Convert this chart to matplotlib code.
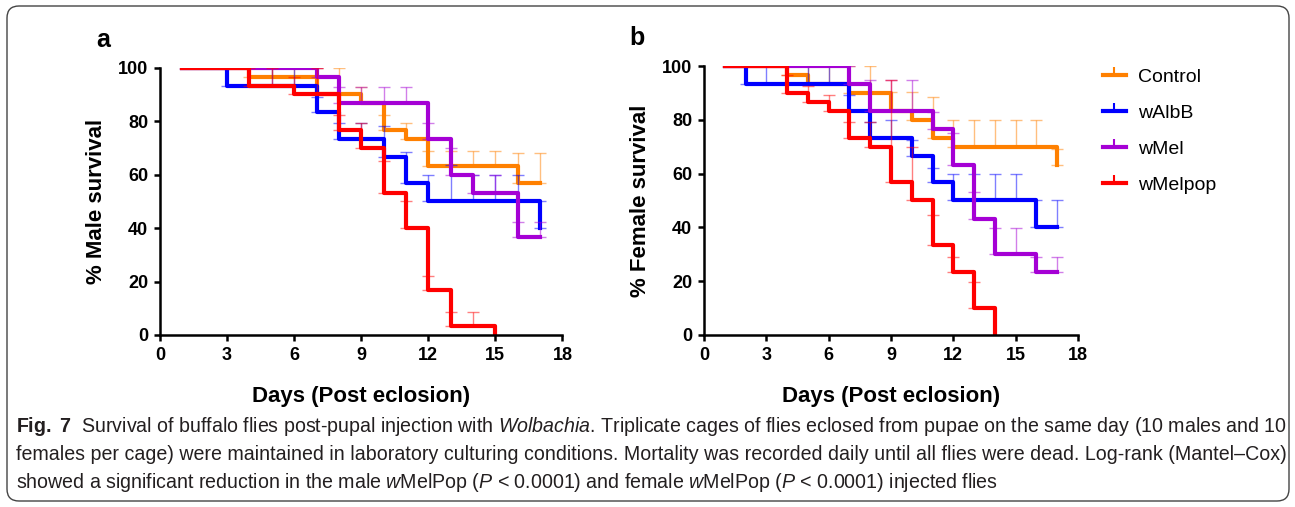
import numpy as np
import matplotlib
matplotlib.use('Agg')
import matplotlib.pyplot as plt
from matplotlib.lines import Line2D
from matplotlib.patches import FancyBboxPatch

plt.rcParams['font.family'] = ['Liberation Sans', 'DejaVu Sans']
plt.rcParams['mathtext.fontset'] = 'custom'
plt.rcParams['mathtext.rm'] = 'Liberation Sans'
plt.rcParams['mathtext.it'] = 'Liberation Sans:italic'
plt.rcParams['mathtext.bf'] = 'Liberation Sans:bold'

groups = ['Control', 'wAlbB', 'wMel', 'wMelpop']
colors = ['#FF8000', '#0000FF', '#A500D5', '#FF0000']
days = np.arange(1, 18)

# % survival per day (day 1..)
male_control = [100, 100, 100, 96.7, 96.7, 96.7, 90, 90, 86.7, 76.7, 73.3, 63.3, 63.3, 63.3, 63.3, 56.7, 56.7]
male_walbb = [100, 100, 93.3, 93.3, 93.3, 93.3, 83.3, 73.3, 73.3, 66.7, 56.7, 50, 50, 50, 50, 50, 40]
male_wmel = [100, 100, 100, 100, 100, 100, 96.7, 86.7, 86.7, 86.7, 86.7, 73.3, 60, 53.3, 53.3, 36.7, 36.7]
male_wmelpop = [100, 100, 100, 93.3, 93.3, 90, 90, 76.7, 70, 53.3, 40, 16.7, 3.3, 3.3, 0]

female_control = [100, 100, 100, 96.7, 93.3, 93.3, 90, 90, 83.3, 80, 73.3, 70, 70, 70, 70, 70, 63.3]
female_walbb = [100, 93.3, 93.3, 93.3, 93.3, 93.3, 83.3, 73.3, 73.3, 66.7, 56.7, 50, 50, 50, 50, 40, 40]
female_wmel = [100, 100, 100, 100, 100, 100, 93.3, 83.3, 83.3, 83.3, 76.7, 63.3, 43.3, 30, 30, 23.3, 23.3]
female_wmelpop = [100, 100, 100, 90, 86.7, 83.3, 73.3, 70, 56.7, 50, 33.3, 23.3, 10, 0]

# top of the (upward) error bar on each day
male_control_top = [100, 100, 100, 100, 100, 100, 100, 100, 92.6, 82.4, 79.3, 69, 69, 69, 69, 68, 68]
male_walbb_top = [100, 100, 100, 100, 100, 100, 89.2, 79.3, 79.3, 78.3, 68.3, 60, 63.7, 60, 60, 60, 50]
male_wmel_top = [100, 100, 100, 100, 100, 100, 100, 92.6, 92.6, 92.6, 92.6, 79.3, 70, 60, 60, 42.4, 42.4]
male_wmelpop_top = [100, 100, 100, 100, 100, 96.7, 100, 82.4, 79.3, 65, 50, 22.2, 8.7, 8.7, 0]

female_control_top = [100, 100, 100, 100, 100, 100, 100, 100, 90.2, 90.2, 88.6, 80, 80, 80, 80, 80, 69]
female_walbb_top = [100, 100, 100, 100, 100, 100, 89.2, 79.3, 80, 72.5, 62.2, 60, 60, 60, 60, 50, 50]
female_wmel_top = [100, 100, 100, 100, 100, 100, 100, 94.8, 94.8, 94.8, 83, 75, 53, 39.7, 39.7, 29, 29]
female_wmelpop_top = [100, 100, 100, 96.7, 92.6, 89.2, 79.3, 79.3, 94.8, 70, 44.6, 28.9, 19.6, 0]

fig = plt.figure(figsize=(12.95, 5.07), dpi=100)
ax_a = fig.add_axes([0.1236, 0.3393, 0.3107, 0.5272])
ax_b = fig.add_axes([0.5436, 0.3393, 0.2888, 0.5305])


def draw_panel(ax, surv, tops, ylabel):
    for name, col, s, t in zip(groups, colors, surv, tops):
        s = np.array(s)
        t = np.array(t)
        d = days[:len(s)]
        m = t > s
        ax.errorbar(d[m], s[m], yerr=[np.zeros(m.sum()), (t - s)[m]], fmt='none',
                    ecolor=col, alpha=0.5, elinewidth=1, capsize=4, capthick=1)
        ax.step(d, s, where='post', color=col, lw=3, label=name)
    ax.set_xlim(0, 18)
    ax.set_ylim(0, 100)
    ax.set_xticks(range(0, 19, 3))
    ax.set_yticks(range(0, 101, 20))
    for side in ['top', 'right']:
        ax.spines[side].set_visible(False)
    for side in ['left', 'bottom']:
        ax.spines[side].set_linewidth(1.8)
    ax.tick_params(direction='out', length=4.5, width=1.8, labelsize=13, pad=4)
    for lab in ax.get_xticklabels() + ax.get_yticklabels():
        lab.set_fontweight('bold')
    ax.set_xlabel('Days (Post eclosion)', fontsize=16, fontweight='bold', labelpad=16)
    ax.set_ylabel(ylabel, fontsize=16, fontweight='bold', labelpad=8)


draw_panel(ax_a, [male_control, male_walbb, male_wmel, male_wmelpop],
           [male_control_top, male_walbb_top, male_wmel_top, male_wmelpop_top], '% Male survival')
draw_panel(ax_b, [female_control, female_walbb, female_wmel, female_wmelpop],
           [female_control_top, female_walbb_top, female_wmel_top, female_wmelpop_top], '% Female survival')

fig.text(0.0795, 0.921, 'a', fontsize=18, fontweight='bold', ha='center', va='center')
fig.text(0.492, 0.925, 'b', fontsize=18, fontweight='bold', ha='center', va='center')

handles = [Line2D([], [], color=c, lw=3, marker=2, markersize=6, markeredgewidth=1.5) for c in colors]
fig.legend(handles, groups, loc='upper left', bbox_to_anchor=(0.838, 0.9), frameon=False,
           fontsize=14, handlelength=1.2, handletextpad=0.6, labelspacing=0.95)

# caption
cap_col = '#231f20'
cap_size = 14.1
fig.text(16 / 1295, 1 - 432 / 507,
         r'$\mathbf{Fig.\ 7}$  Survival of buffalo flies post-pupal injection with $\mathit{Wolbachia}$. '
         'Triplicate cages of flies eclosed from pupae on the same day (10 males and 10',
         fontsize=cap_size, color=cap_col)
fig.text(16 / 1295, 1 - 460 / 507,
         'females per cage) were maintained in laboratory culturing conditions. Mortality was recorded '
         'daily until all flies were dead. Log-rank (Mantel\u2013Cox)',
         fontsize=cap_size, color=cap_col)
fig.text(16 / 1295, 1 - 488 / 507,
         r'showed a significant reduction in the male $\mathit{w}$MelPop ($\mathit{P}$ < 0.0001) '
         r'and female $\mathit{w}$MelPop ($\mathit{P}$ < 0.0001) injected flies',
         fontsize=cap_size, color=cap_col)

frame = FancyBboxPatch((0.07, 0.06), 12.82, 4.95, boxstyle='round,pad=0,rounding_size=0.12',
                       transform=fig.dpi_scale_trans, fill=False, ec='#444444', lw=1)
fig.patches.append(frame)

fig.savefig('out.png', dpi=100)
